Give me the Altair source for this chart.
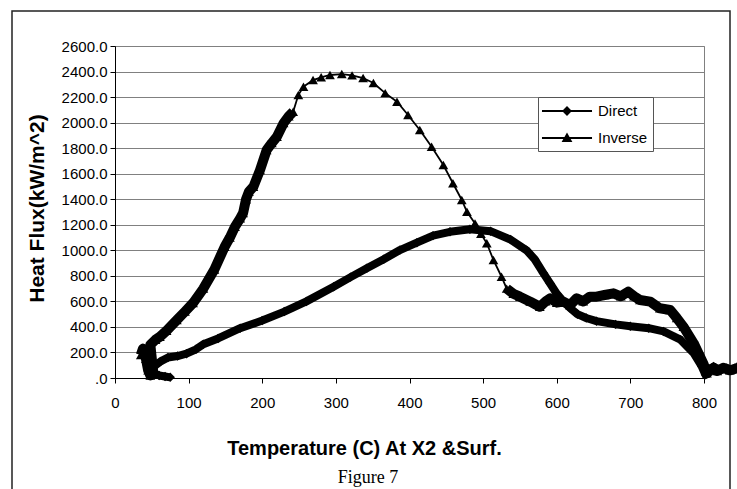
import altair as alt
import pandas as pd

# ---- data ----
series_names = ["Direct", "Inverse"]

direct_t = [75, 68, 60, 52, 50, 55, 62, 72, 85, 97,
            110, 120, 140, 170, 200, 230, 260, 297, 320, 342,
            365, 387, 410, 432, 455, 482, 510, 537, 559, 570,
            582, 591, 600, 609, 618, 628, 640, 654, 680, 700,
            725, 745, 768, 786, 797, 802, 806, 813, 822, 831,
            838, 845]
direct_q = [5, 12, 20, 40, 70, 100, 130, 160, 172, 190,
            225, 265, 310, 390, 450, 520, 600, 715, 790, 859,
            930, 1002, 1060, 1115, 1145, 1165, 1150, 1085, 1000, 930,
            820, 740, 660, 600, 548, 500, 470, 445, 420, 405,
            390, 365, 300, 195, 90, 25, 60, 90, 60, 78,
            65, 88]

inverse_t = [35, 38, 42, 45, 48, 52, 50, 48, 55, 61,
             70, 84, 95, 106, 120, 135, 149, 156, 163, 170,
             174, 178, 182, 188, 197, 206, 213, 220, 229, 236,
             242, 249, 256, 269, 280, 292, 308, 322, 337, 351,
             367, 383, 398, 414, 430, 446, 459, 471, 478, 489,
             497, 505, 514, 525, 532, 541, 550, 564, 577, 585,
             591, 600, 609, 618, 627, 636, 645, 654, 665, 677,
             687, 697, 705, 713, 727, 740, 754, 763, 772, 786,
             799, 804, 810, 818, 826, 835, 845]
inverse_q = [180, 230, 150, 60, 20, 40, 150, 260, 300, 323,
             370, 454, 520, 587, 700, 850, 1028, 1100, 1185, 1250,
             1292, 1400, 1460, 1498, 1629, 1785, 1840, 1890, 1996, 2050,
             2085, 2216, 2281, 2333, 2355, 2373, 2380, 2370, 2349, 2310,
             2231, 2164, 2060, 1942, 1811, 1668, 1525, 1394, 1302, 1211,
             1130, 1055, 924, 793, 700, 660, 637, 598, 558, 600,
             624, 590, 598, 570, 624, 600, 637, 637, 650, 663,
             640, 676, 640, 611, 598, 546, 533, 470, 402, 272,
             115, 37, 70, 55, 80, 60, 75]

x_ticks = [0, 100, 200, 300, 400, 500, 600, 700, 800]
y_ticks = [0, 200, 400, 600, 800, 1000, 1200, 1400, 1600, 1800,
           2000, 2200, 2400, 2600]

x_title = "Temperature (C) At X2 &Surf."
y_title = "Heat Flux(kW/m^2)"
caption = "Figure 7"

# ---- tables ----
d = pd.DataFrame({"T": direct_t, "Q": direct_q, "series": series_names[0]})
d["idx"] = range(len(d))
inv = pd.DataFrame({"T": inverse_t, "Q": inverse_q, "series": series_names[1]})
inv["idx"] = range(len(inv))

# dense (overplotted) stretches of the inverse series drawn as a thick band
peak = int(inv["Q"].idxmax())
rise_end = int(inv.index[inv["Q"] >= 2085][0])
tail_start = int(inv.index[(inv.index > peak) & (inv["Q"] <= 700)][0])
inv["seg"] = None
inv.loc[:rise_end, "seg"] = "a"
inv.loc[tail_start:, "seg"] = "b"
inv_dense = inv.dropna(subset=["seg"])

both = pd.concat([d, inv], ignore_index=True)
legend_rows = both.drop_duplicates("series")

FONT = "Liberation Sans"

x_enc = alt.X(
    "T:Q",
    scale=alt.Scale(domain=[0, 800], nice=False, zero=False),
    axis=alt.Axis(
        values=x_ticks, title=x_title, grid=False, labelFlush=False,
        domainColor="black", tickColor="black", tickSize=5,
        labelFont=FONT, labelFontSize=15, labelColor="black", labelPadding=12,
        titleFont=FONT, titleFontSize=20, titleFontWeight="bold", titleColor="black",
        titleX=249, titleY=76, titleAlign="center", titleBaseline="alphabetic",
    ),
)
y_enc = alt.Y(
    "Q:Q",
    scale=alt.Scale(domain=[0, 2600], nice=False),
    axis=alt.Axis(
        values=y_ticks, title=y_title, grid=True, gridColor="#808080", gridWidth=1,
        labelFlush=False,
        labelExpr="datum.value == 0 ? '.0' : format(datum.value, '.1f')",
        domainColor="black", tickColor="black", tickSize=5,
        labelFont=FONT, labelFontSize=15, labelColor="black", labelPadding=3,
        titleFont=FONT, titleFontSize=21, titleFontWeight="bold", titleColor="black",
        titleAngle=270, titleX=-72, titleY=162, titleAlign="center",
        titleBaseline="alphabetic",
    ),
)

direct_line = alt.Chart(d).mark_line(color="black", strokeWidth=8, strokeJoin="round").encode(
    x=x_enc, y=y_enc, order="idx:Q")
direct_pts = alt.Chart(d).mark_point(shape="diamond", filled=True, color="black", size=90, opacity=1).encode(
    x=x_enc, y=y_enc)

inv_line = alt.Chart(inv).mark_line(color="black", strokeWidth=1.8).encode(
    x=x_enc, y=y_enc, order="idx:Q")
inv_band = alt.Chart(inv_dense).mark_line(color="black", strokeWidth=10, strokeJoin="round").encode(
    x=x_enc, y=y_enc, order="idx:Q", detail="seg:N")
inv_pts = alt.Chart(inv).mark_point(shape="triangle-up", filled=True, color="black", size=95, opacity=1).encode(
    x=x_enc, y=y_enc)

# legend symbols: a line with the marker in the middle (unit = 9 px)
direct_sym = "M-2.78,-0.12H2.78V0.12H-2.78ZM0,-0.55L0.55,0L0,0.55L-0.55,0Z"
inverse_sym = "M-2.78,-0.12H2.78V0.12H-2.78ZM0,-0.6L0.6,0.45L-0.6,0.45Z"

legend_layer = alt.Chart(legend_rows).mark_point(filled=True, color="black", opacity=0).encode(
    x=x_enc, y=y_enc,
    shape=alt.Shape(
        "series:N",
        scale=alt.Scale(domain=series_names, range=[direct_sym, inverse_sym]),
        legend=alt.Legend(
            title=None, orient="none", legendX=423, legendY=51,
            padding=5, symbolSize=324, symbolOffset=15, labelOffset=22,
            rowPadding=10, symbolStrokeWidth=0,
            labelFont=FONT, labelFontSize=15, labelColor="black",
            strokeColor="#555555", fillColor="white",
        ),
    ),
)

frame = alt.Chart(pd.DataFrame({"k": [0]})).mark_rect(
    fill="transparent", stroke="#222222", strokeWidth=1.5
).encode(x=alt.value(-103), x2=alt.value(615), y=alt.value(-35), y2=alt.value(460))

cap = alt.Chart(pd.DataFrame({"label": [caption]})).mark_text(
    font="Liberation Serif", fontSize=18, color="black", align="center", baseline="alphabetic"
).encode(x=alt.value(253), y=alt.value(437), text="label:N")

chart = alt.layer(
    frame, inv_line, inv_band, direct_line, direct_pts, inv_pts, legend_layer, cap
).properties(
    width=589, height=332,
    autosize=alt.AutoSizeParams(type="none"),
    padding={"left": 115, "top": 46, "right": 33, "bottom": 111},
    background="white",
).configure_view(stroke="#808080", strokeWidth=1)

chart.save("out.html", embed_options={"renderer": "svg", "actions": False})
